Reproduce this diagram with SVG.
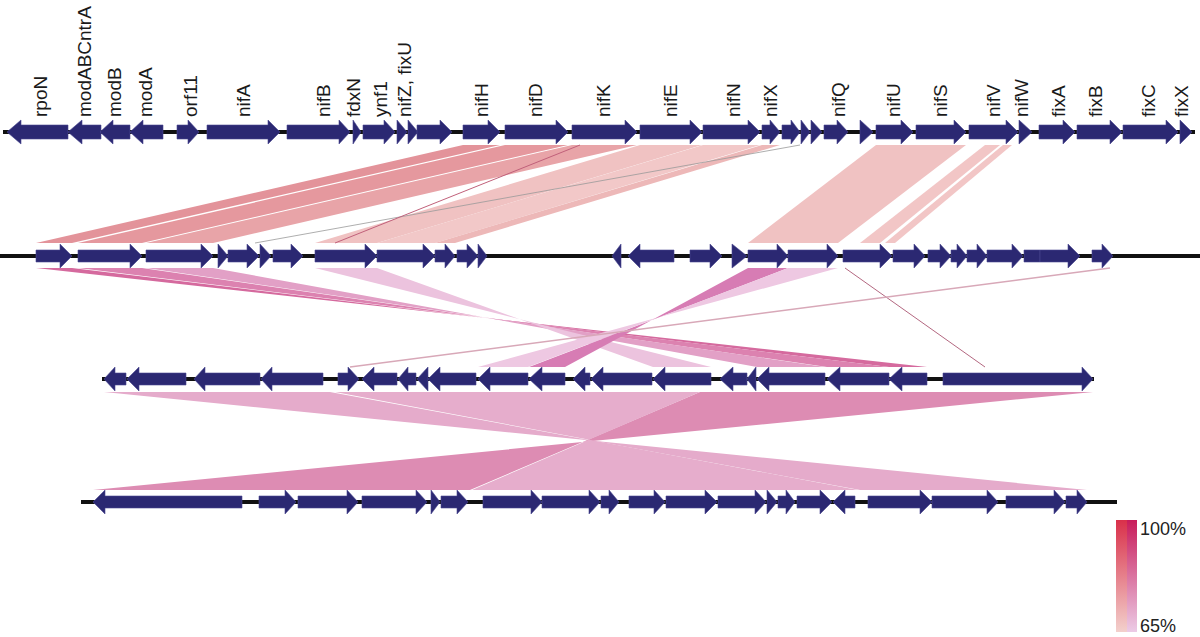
<svg xmlns="http://www.w3.org/2000/svg" width="1200" height="637" viewBox="0 0 1200 637">
<style>
.g{fill:#2b2872;stroke:#4a4890;stroke-width:0.6}
.ln{stroke:#111;stroke-width:4}
.lb{font-family:"Liberation Sans",Arial,sans-serif;font-size:19px;fill:#1a1a1a}
.lg{font-family:"Liberation Sans",Arial,sans-serif;font-size:18px;fill:#222}
</style>
<defs>
<linearGradient id="gl" x1="0" y1="0" x2="0" y2="1"><stop offset="0" stop-color="#d9304a"/><stop offset="1" stop-color="#f3d0cc"/></linearGradient>
<linearGradient id="gr" x1="0" y1="0" x2="0" y2="1"><stop offset="0" stop-color="#c81c5a"/><stop offset="1" stop-color="#eccbe6"/></linearGradient>
</defs>
<rect width="1200" height="637" fill="#fff"/>
<g id="connectors">
<polygon points="463,145 500,145 72,243 36,243" fill="#e3939a"/>
<polygon points="505,145 568,145 142,243 78,243" fill="#e5989e"/>
<polygon points="572,145 637,145 213,243 146,243" fill="#e8a4a8"/>
<polygon points="640,145 702,145 377,243 315,243" fill="#f0c2c2"/>
<polygon points="703,145 760,145 435,243 377,243" fill="#f2c8c8"/>
<polygon points="762,145 780,145 455,243 435,243" fill="#edb8b8"/>
<polygon points="876,145 966,145 838,243 748,243" fill="#f0c2c2"/>
<polygon points="985,145 1000,145 880,243 860,243" fill="#f2c6c6"/>
<polygon points="1003,145 1012,145 895,243 885,243" fill="#f2c6c6"/>
<line x1="800" y1="145" x2="255" y2="243" stroke="#999" stroke-width="0.8"/>
<line x1="580" y1="145" x2="335" y2="243" stroke="#c0607a" stroke-width="1"/>
<polygon points="36,268 72,268 889,367 927,367" fill="#d56a9e"/>
<polygon points="78,268 142,268 827,367 889,367" fill="#dc82b0"/>
<polygon points="146,268 213,268 757,367 825,367" fill="#e2a0c6"/>
<polygon points="315,268 377,268 653,367 711,367" fill="#ecc3de"/>
<polygon points="748,268 788,268 529,367 565,367" fill="#d77cb4"/>
<polygon points="788,268 838,268 478,367 528,367" fill="#eec8e2"/>
<line x1="845" y1="268" x2="985" y2="367" stroke="#a04060" stroke-width="0.8"/>
<line x1="1110" y1="268" x2="350" y2="367" stroke="#d8a8b8" stroke-width="1.5"/>
<polygon points="700,392 1093,392 93,490 470,490" fill="#dd8cb3"/>
<polygon points="104,392 330,392 860,490 1087,490" fill="#e5abcb"/>
<polygon points="335,392 700,392 472,490 858,490" fill="#e6adcc"/>
</g>
<g id="track1">
<line class="ln" x1="3" y1="132" x2="1195" y2="132"/>
<g id="rpoN"><polygon class="g" points="7,132 21,120 21,125 68,125 68,139 21,139 21,144"/><text class="lb" transform="translate(47,117) rotate(-90)">rpoN</text></g>
<g id="modABCntrA"><polygon class="g" points="68,132 82,120 82,125 101,125 101,139 82,139 82,144"/><text class="lb" transform="translate(91,117) rotate(-90)">modABCntrA</text></g>
<g id="modB"><polygon class="g" points="100,132 113,120 113,125 130,125 130,139 113,139 113,144"/><text class="lb" transform="translate(121,117) rotate(-90)">modB</text></g>
<g id="modA"><polygon class="g" points="130,132 143,120 143,125 163,125 163,139 143,139 143,144"/><text class="lb" transform="translate(152,117) rotate(-90)">modA</text></g>
<g id="orf11"><polygon class="g" points="177,125 188,125 188,120 199,132 188,144 188,139 177,139"/><text class="lb" transform="translate(197,117) rotate(-90)">orf11</text></g>
<g id="nifA"><polygon class="g" points="207,125 268,125 268,120 280,132 268,144 268,139 207,139"/><text class="lb" transform="translate(250,117) rotate(-90)">nifA</text></g>
<g id="nifB"><polygon class="g" points="287,125 339,125 339,120 350,132 339,144 339,139 287,139"/><text class="lb" transform="translate(330,117) rotate(-90)">nifB</text></g>
<g id="fdxN"><polygon class="g" points="353,120 361,132 353,144"/><text class="lb" transform="translate(360,117) rotate(-90)">fdxN</text></g>
<g id="ynf1"><polygon class="g" points="363,125 384,125 384,120 395,132 384,144 384,139 363,139"/><text class="lb" transform="translate(387,117) rotate(-90)">ynf1</text></g>
<g id="nifZ"><polygon class="g" points="397,120 407,132 397,144"/><polygon class="g" points="408,120 418,132 408,144"/><text class="lb" transform="translate(411,117) rotate(-90)">nifZ, fixU</text></g>
<g id="t1g12"><polygon class="g" points="417,125 440,125 440,120 452,132 440,144 440,139 417,139"/></g>
<g id="nifH"><polygon class="g" points="463,125 488,125 488,120 500,132 488,144 488,139 463,139"/><text class="lb" transform="translate(488,117) rotate(-90)">nifH</text></g>
<g id="nifD"><polygon class="g" points="505,125 556,125 556,120 568,132 556,144 556,139 505,139"/><text class="lb" transform="translate(542,117) rotate(-90)">nifD</text></g>
<g id="nifK"><polygon class="g" points="572,125 625,125 625,120 637,132 625,144 625,139 572,139"/><text class="lb" transform="translate(610,117) rotate(-90)">nifK</text></g>
<g id="nifE"><polygon class="g" points="640,125 690,125 690,120 702,132 690,144 690,139 640,139"/><text class="lb" transform="translate(677,117) rotate(-90)">nifE</text></g>
<g id="nifN"><polygon class="g" points="703,125 748,125 748,120 760,132 748,144 748,139 703,139"/><text class="lb" transform="translate(740,117) rotate(-90)">nifN</text></g>
<g id="nifX"><polygon class="g" points="762,125 770,125 770,120 780,132 770,144 770,139 762,139"/><text class="lb" transform="translate(777,117) rotate(-90)">nifX</text></g>
<g id="t1g19"><polygon class="g" points="782,125 791,125 791,120 800,132 791,144 791,139 782,139"/></g>
<g id="t1g20"><polygon class="g" points="801,120 810,132 801,144"/></g>
<g id="t1g21"><polygon class="g" points="811,120 822,132 811,144"/></g>
<g id="nifQ"><polygon class="g" points="824,125 837,125 837,120 848,132 837,144 837,139 824,139"/><text class="lb" transform="translate(845,117) rotate(-90)">nifQ</text></g>
<g id="t1g23"><polygon class="g" points="860,120 873,132 860,144"/></g>
<g id="nifU"><polygon class="g" points="876,125 901,125 901,120 913,132 901,144 901,139 876,139"/><text class="lb" transform="translate(900,117) rotate(-90)">nifU</text></g>
<g id="nifS"><polygon class="g" points="916,125 954,125 954,120 966,132 954,144 954,139 916,139"/><text class="lb" transform="translate(947,117) rotate(-90)">nifS</text></g>
<g id="nifV"><polygon class="g" points="969,125 1006,125 1006,120 1018,132 1006,144 1006,139 969,139"/><text class="lb" transform="translate(1000,117) rotate(-90)">nifV</text></g>
<g id="nifW"><polygon class="g" points="1019,120 1032,132 1019,144"/><text class="lb" transform="translate(1028,117) rotate(-90)">nifW</text></g>
<g id="fixA"><polygon class="g" points="1039,125 1063,125 1063,120 1075,132 1063,144 1063,139 1039,139"/><text class="lb" transform="translate(1065,117) rotate(-90)">fixA</text></g>
<g id="fixB"><polygon class="g" points="1077,125 1110,125 1110,120 1122,132 1110,144 1110,139 1077,139"/><text class="lb" transform="translate(1102,117) rotate(-90)">fixB</text></g>
<g id="fixC"><polygon class="g" points="1123,125 1166,125 1166,120 1178,132 1166,144 1166,139 1123,139"/><text class="lb" transform="translate(1155,117) rotate(-90)">fixC</text></g>
<g id="fixX"><polygon class="g" points="1180,120 1192,132 1180,144"/><text class="lb" transform="translate(1188,117) rotate(-90)">fixX</text></g>
</g>
<g id="track2">
<line class="ln" x1="0" y1="256" x2="1200" y2="256"/>
<g id="t2g1"><polygon class="g" points="36,250 60,250 60,244 72,256 60,268 60,262 36,262"/></g>
<g id="t2g2"><polygon class="g" points="78,250 130,250 130,244 142,256 130,268 130,262 78,262"/></g>
<g id="t2g3"><polygon class="g" points="146,250 201,250 201,244 213,256 201,268 201,262 146,262"/></g>
<g id="t2g4"><polygon class="g" points="218,244 228,256 218,268"/></g>
<g id="t2g5"><polygon class="g" points="228,250 247,250 247,244 259,256 247,268 247,262 228,262"/></g>
<g id="t2g6"><polygon class="g" points="260,244 271,256 260,268"/></g>
<g id="t2g7"><polygon class="g" points="273,250 291,250 291,244 303,256 291,268 291,262 273,262"/></g>
<g id="t2g8"><polygon class="g" points="315,250 365,250 365,244 377,256 365,268 365,262 315,262"/></g>
<g id="t2g9"><polygon class="g" points="377,250 423,250 423,244 435,256 423,268 423,262 377,262"/></g>
<g id="t2g10"><polygon class="g" points="435,250 445,250 445,244 455,256 445,268 445,262 435,262"/></g>
<g id="t2g11"><polygon class="g" points="457,250 467,250 467,244 478,256 467,268 467,262 457,262"/></g>
<g id="t2g12"><polygon class="g" points="478,244 487,256 478,268"/></g>
<g id="t2g13"><polygon class="g" points="612,256 621,244 621,268"/></g>
<g id="t2g14"><polygon class="g" points="628,256 640,244 640,250 674,250 674,262 640,262 640,268"/></g>
<g id="t2g15"><polygon class="g" points="690,250 710,250 710,244 722,256 710,268 710,262 690,262"/></g>
<g id="t2g16"><polygon class="g" points="732,244 747,256 732,268"/></g>
<g id="t2g17"><polygon class="g" points="748,250 777,250 777,244 788,256 777,268 777,262 748,262"/></g>
<g id="t2g18"><polygon class="g" points="788,250 827,250 827,244 838,256 827,268 827,262 788,262"/></g>
<g id="t2g19"><polygon class="g" points="843,250 880,250 880,244 892,256 880,268 880,262 843,262"/></g>
<g id="t2g20"><polygon class="g" points="893,250 914,250 914,244 925,256 914,268 914,262 893,262"/></g>
<g id="t2g21"><polygon class="g" points="928,250 940,250 940,244 951,256 940,268 940,262 928,262"/></g>
<g id="t2g22"><polygon class="g" points="951,250 957,250 957,244 967,256 957,268 957,262 951,262"/></g>
<g id="t2g23"><polygon class="g" points="967,250 977,250 977,244 987,256 977,268 977,262 967,262"/></g>
<g id="t2g24"><polygon class="g" points="987,250 1012,250 1012,244 1023,256 1012,268 1012,262 987,262"/></g>
<g id="t2g25"><polygon class="g" points="1024,250 1040,250 1040,262 1024,262"/></g>
<g id="t2g26"><polygon class="g" points="1040,250 1068,250 1068,244 1080,256 1068,268 1068,262 1040,262"/></g>
<g id="t2g27"><polygon class="g" points="1092,250 1102,250 1102,244 1113,256 1102,268 1102,262 1092,262"/></g>
</g>
<g id="track3">
<line class="ln" x1="102" y1="379" x2="1094" y2="379"/>
<g id="t3g1"><polygon class="g" points="104,379 115,367 115,373 126,373 126,385 115,385 115,391"/></g>
<g id="t3g2"><polygon class="g" points="127,379 139,367 139,373 186,373 186,385 139,385 139,391"/></g>
<g id="t3g3"><polygon class="g" points="194,379 205,367 205,373 260,373 260,385 205,385 205,391"/></g>
<g id="t3g4"><polygon class="g" points="261,379 272,367 272,373 323,373 323,385 272,385 272,391"/></g>
<g id="t3g5"><polygon class="g" points="338,373 348,373 348,367 359,379 348,391 348,385 338,385"/></g>
<g id="t3g6"><polygon class="g" points="362,379 374,367 374,373 397,373 397,385 374,385 374,391"/></g>
<g id="t3g7"><polygon class="g" points="398,379 408,367 408,373 416,373 416,385 408,385 408,391"/></g>
<g id="t3g8"><polygon class="g" points="417,379 428,367 428,391"/></g>
<g id="t3g9"><polygon class="g" points="428,379 440,367 440,373 476,373 476,385 440,385 440,391"/></g>
<g id="t3g10"><polygon class="g" points="478,379 490,367 490,373 528,373 528,385 490,385 490,391"/></g>
<g id="t3g11"><polygon class="g" points="529,379 542,367 542,373 565,373 565,385 542,385 542,391"/></g>
<g id="t3g12"><polygon class="g" points="573,379 585,367 585,373 590,373 590,385 585,385 585,391"/></g>
<g id="t3g13"><polygon class="g" points="591,379 603,367 603,373 652,373 652,385 603,385 603,391"/></g>
<g id="t3g14"><polygon class="g" points="653,379 665,367 665,373 711,373 711,385 665,385 665,391"/></g>
<g id="t3g15"><polygon class="g" points="720,379 733,367 733,373 747,373 747,385 733,385 733,391"/></g>
<g id="t3g16"><polygon class="g" points="747,379 756,367 756,391"/></g>
<g id="t3g17"><polygon class="g" points="757,379 769,367 769,373 825,373 825,385 769,385 769,391"/></g>
<g id="t3g18"><polygon class="g" points="827,379 840,367 840,373 889,373 889,385 840,385 840,391"/></g>
<g id="t3g19"><polygon class="g" points="889,379 902,367 902,373 927,373 927,385 902,385 902,391"/></g>
<g id="t3g20"><polygon class="g" points="943,373 1082,373 1082,367 1093,379 1082,391 1082,385 943,385"/></g>
</g>
<g id="track4">
<line class="ln" x1="81" y1="502" x2="1117" y2="502"/>
<g id="t4g1"><polygon class="g" points="93,502 105,490 105,496 242,496 242,508 105,508 105,514"/></g>
<g id="t4g2"><polygon class="g" points="259,496 285,496 285,490 296,502 285,514 285,508 259,508"/></g>
<g id="t4g3"><polygon class="g" points="298,496 347,496 347,490 358,502 347,514 347,508 298,508"/></g>
<g id="t4g4"><polygon class="g" points="362,496 416,496 416,490 427,502 416,514 416,508 362,508"/></g>
<g id="t4g5"><polygon class="g" points="431,490 440,502 431,514"/></g>
<g id="t4g6"><polygon class="g" points="441,496 457,496 457,490 468,502 457,514 457,508 441,508"/></g>
<g id="t4g7"><polygon class="g" points="483,496 531,496 531,490 542,502 531,514 531,508 483,508"/></g>
<g id="t4g8"><polygon class="g" points="542,496 589,496 589,490 600,502 589,514 589,508 542,508"/></g>
<g id="t4g9"><polygon class="g" points="601,496 609,496 609,490 619,502 609,514 609,508 601,508"/></g>
<g id="t4g10"><polygon class="g" points="629,496 654,496 654,490 665,502 654,514 654,508 629,508"/></g>
<g id="t4g11"><polygon class="g" points="666,496 705,496 705,490 717,502 705,514 705,508 666,508"/></g>
<g id="t4g12"><polygon class="g" points="718,496 755,496 755,490 766,502 755,514 755,508 718,508"/></g>
<g id="t4g13"><polygon class="g" points="767,490 777,502 767,514"/></g>
<g id="t4g14"><polygon class="g" points="778,496 786,496 786,490 795,502 786,514 786,508 778,508"/></g>
<g id="t4g15"><polygon class="g" points="797,496 820,496 820,490 832,502 820,514 820,508 797,508"/></g>
<g id="t4g16"><polygon class="g" points="833,502 845,490 845,496 855,496 855,508 845,508 845,514"/></g>
<g id="t4g17"><polygon class="g" points="868,496 920,496 920,490 932,502 920,514 920,508 868,508"/></g>
<g id="t4g18"><polygon class="g" points="932,496 987,496 987,490 998,502 987,514 987,508 932,508"/></g>
<g id="t4g19"><polygon class="g" points="1006,496 1054,496 1054,490 1065,502 1054,514 1054,508 1006,508"/></g>
<g id="t4g20"><polygon class="g" points="1066,496 1077,496 1077,490 1087,502 1077,514 1077,508 1066,508"/></g>
</g>
<g id="legend">
<rect x="1116" y="520" width="11" height="112" fill="url(#gl)"/>
<rect x="1127" y="520" width="10" height="112" fill="url(#gr)"/>
<text class="lg" x="1140" y="535">100%</text>
<text class="lg" x="1140" y="632">65%</text>
</g>
</svg>
